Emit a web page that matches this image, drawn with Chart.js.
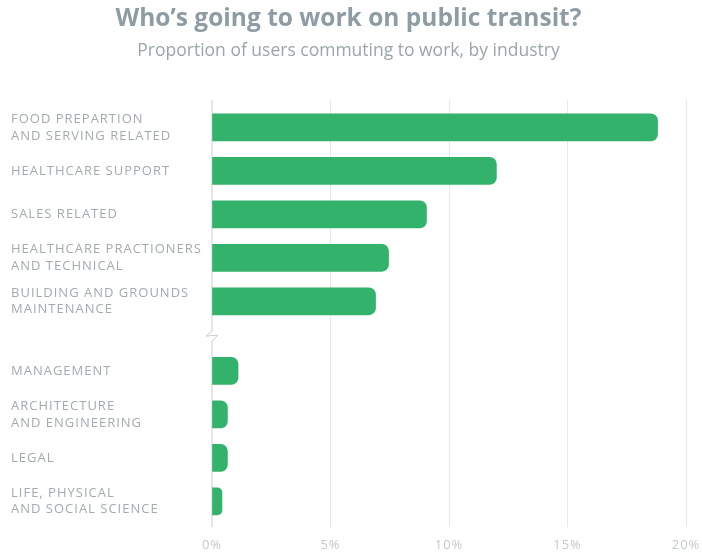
<!DOCTYPE html>
<html>
<head>
<meta charset="utf-8">
<script src="https://cdn.jsdelivr.net/npm/chart.js@4.4.0/dist/chart.umd.min.js"></script>
<style>
  html, body { margin: 0; padding: 0; background: #fff; }
  #wrap { width: 702px; height: 555px; }
</style>
</head>
<body>
<div id="wrap"><canvas id="transit-chart"></canvas></div>
<script>
var categories = [
  ["FOOD PREPARTION", "AND SERVING RELATED"],
  ["HEALTHCARE SUPPORT"],
  ["SALES RELATED"],
  ["HEALTHCARE PRACTIONERS", "AND TECHNICAL"],
  ["BUILDING AND GROUNDS", "MAINTENANCE"],
  ["MANAGEMENT"],
  ["ARCHITECTURE", "AND ENGINEERING"],
  ["LEGAL"],
  ["LIFE, PHYSICAL", "AND SOCIAL SCIENCE"]
];
var shares = [18.8, 12.0, 9.05, 7.45, 6.9, 1.1, 0.65, 0.65, 0.42];
var xTicks = [0, 5, 10, 15, 20];

// axis break between the top five and the rest
var breakAfter = 5;
var breakGap = 0.6;
var positions = categories.map(function (c, i) {
  return i + (i >= breakAfter ? breakGap : 0);
});

const axisBreak = {
  id: "axisBreak",
  beforeDatasetsDraw(chart) {
    const ctx = chart.ctx;
    const area = chart.chartArea;
    const x0 = chart.scales.x.getPixelForValue(0);
    const yb = chart.scales.y.getPixelForValue((positions[breakAfter - 1] + positions[breakAfter]) / 2);
    ctx.save();
    ctx.strokeStyle = "#c9cdd0";
    ctx.lineWidth = 1;
    ctx.beginPath();
    ctx.moveTo(x0, area.top);
    ctx.lineTo(x0, yb - 5);
    ctx.lineTo(x0 - 6, yb);
    ctx.lineTo(x0 + 6, yb - 1);
    ctx.lineTo(x0, yb + 5);
    ctx.lineTo(x0, area.bottom);
    ctx.stroke();
    ctx.restore();
  },
};

function noOverhang(scale) {
  scale.paddingLeft = 0;
  scale.paddingRight = 0;
  scale.paddingTop = 0;
  scale.paddingBottom = 0;
}

// tick labels in the picture are spaced out a bit
function spaced(scale, px) {
  if (scale._spaced) return;
  const orig = scale.drawLabels;
  scale.drawLabels = function () {
    const c = this.ctx;
    c.save();
    c.letterSpacing = px;
    orig.apply(this, arguments);
    c.restore();
  };
  scale._spaced = true;
}

const ctx = document.getElementById("transit-chart");

new Chart(ctx, {
  type: "bar",
  data: {
    datasets: [
      {
        data: shares.map(function (v, i) {
          return { x: v, y: positions[i] };
        }),
        backgroundColor: "#33b26b",
        borderRadius: 7,
        borderSkipped: "start",
        barThickness: 27,
      },
    ],
  },
  plugins: [axisBreak],
  options: {
    indexAxis: "y",
    responsive: true,
    maintainAspectRatio: false,
    animation: false,
    layout: {
      padding: { left: 11, right: 16, bottom: 0 },
    },
    plugins: {
      legend: { display: false },
      tooltip: { enabled: false },
      title: {
        display: true,
        text: "Who\u2019s going to work on public transit?",
        color: "#8e9ca4",
        font: { family: "Open Sans", size: 24.5, weight: "bold" },
        padding: { top: 4, bottom: 7 },
      },
      subtitle: {
        display: true,
        text: "Proportion of users commuting to work, by industry",
        color: "#9ba5aa",
        font: { family: "Open Sans", size: 17.5 },
        padding: { top: 0, bottom: 38.6 },
      },
    },
    scales: {
      x: {
        type: "linear",
        min: 0,
        max: 20,
        afterBuildTicks: function (scale) {
          scale.ticks = xTicks.map(function (v) {
            return { value: v };
          });
        },
        afterFit: function (scale) {
          noOverhang(scale);
          scale.height = 28;
          spaced(scale, "1px");
        },
        grid: {
          color: function (c) {
            return c.tick && c.tick.value === 0 ? "rgba(0,0,0,0)" : "#e6e8e9";
          },
          drawTicks: false,
        },
        border: { display: false },
        ticks: {
          padding: 10,
          color: "#c3c9cc",
          font: { family: "Open Sans", size: 13 },
          callback: function (v) {
            return v + "%";
          },
        },
      },
      y: {
        type: "linear",
        reverse: true,
        offset: false,
        min: -0.63,
        max: 9.19,
        afterBuildTicks: function (scale) {
          scale.ticks = positions.map(function (v) {
            return { value: v };
          });
        },
        afterFit: function (scale) {
          noOverhang(scale);
          scale.width = 201;
          spaced(scale, "1px");
        },
        grid: { display: false },
        border: { display: false },
        ticks: {
          autoSkip: false,
          crossAlign: "far",
          color: "#a2abb0",
          font: { family: "Open Sans", size: 13, lineHeight: 1.3 },
          callback: function (v, i) {
            return categories[i];
          },
        },
      },
    },
  },
});
</script>
</body>
</html>
